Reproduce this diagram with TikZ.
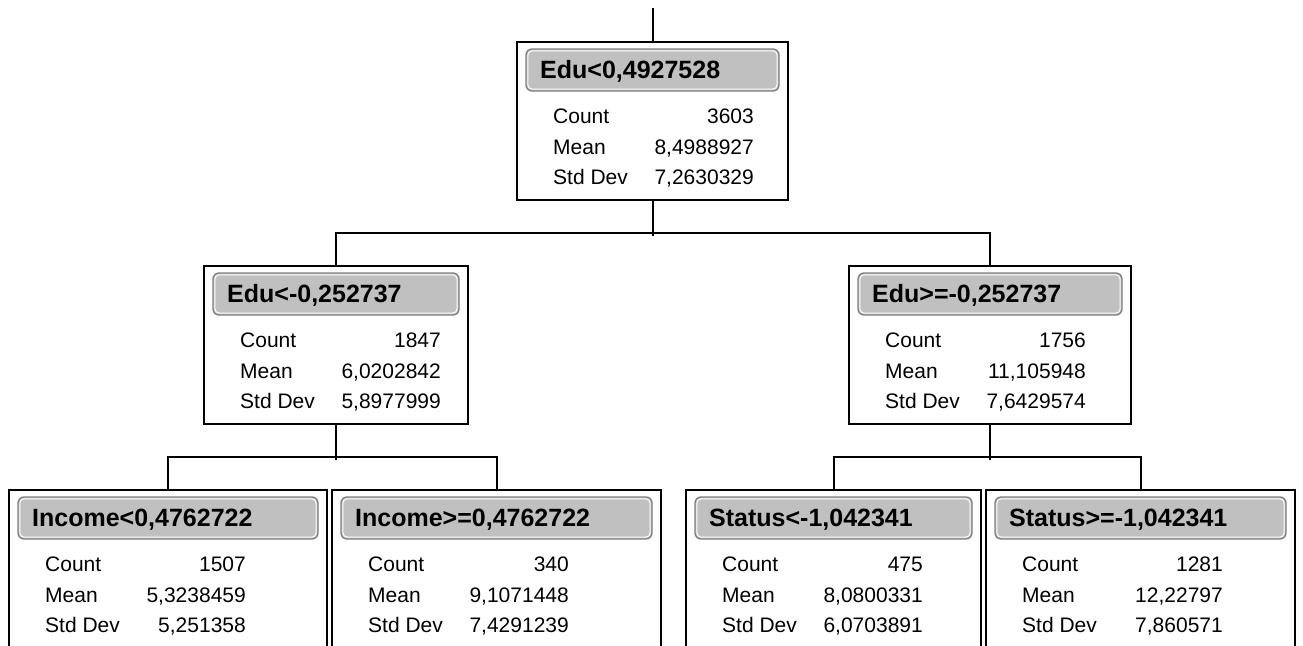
\documentclass[tikz,border=0pt]{standalone}
\usepackage{fontspec}
\setmainfont{Liberation Sans}
\definecolor{hdrfill}{RGB}{192,192,192}
\definecolor{hdrline}{RGB}{128,128,128}
\tikzset{
  box/.style={draw=black, line width=2pt, fill=white, anchor=north west, inner sep=0pt, outer sep=0pt, minimum height=158pt},
  hdr/.style={draw=hdrline, line width=1.3pt, fill=hdrfill, rounded corners=6pt, anchor=north west, inner sep=0pt, outer sep=0pt, minimum height=42pt},
  hdrtext/.style={anchor=base west, inner sep=0pt, font=\fontsize{25}{28}\selectfont\bfseries},
  lbl/.style={anchor=base west, inner sep=0pt, font=\fontsize{21}{24}\selectfont},
  val/.style={anchor=base east, inner sep=0pt, font=\fontsize{21}{24}\selectfont},
  conn/.style={draw=black, line width=2pt},
}
\newcommand\treebox[8]{%
  \node[box, minimum width={(#3-#2)*1pt}] (#1) at (#2,#4) {};
  \node[hdr, minimum width={(#3-#2-18)*1pt}] (#1h) at ([shift={(9pt,-7pt)}]#1.north west) {};
  \draw[white, line width=1pt, rounded corners=4.5pt] ([shift={(1.8pt,-1.8pt)}]#1h.north west) rectangle ([shift={(-1.8pt,1.8pt)}]#1h.south east);
  \node[hdrtext] (#1t) at ([shift={(23pt,-36.5pt)}]#1.north west) {#5};
  \node[lbl] (#1cl) at ([shift={(36pt,-81pt)}]#1.north west) {Count};
  \node[lbl] (#1ml) at ([shift={(36pt,-112pt)}]#1.north west) {Mean};
  \node[lbl] (#1sl) at ([shift={(36pt,-142pt)}]#1.north west) {Std Dev};
  \node[val] (#1cv) at ([shift={(237pt,-81pt)}]#1.north west) {#6};
  \node[val] (#1mv) at ([shift={(237pt,-112pt)}]#1.north west) {#7};
  \node[val] (#1sv) at ([shift={(237pt,-142pt)}]#1.north west) {#8};
}
\begin{document}
\begin{tikzpicture}[x=1pt, y=-1pt]
  \useasboundingbox (0,0) rectangle (1303,645);
  \clip (0,0) rectangle (1303,645);
  \fill[white] (0,0) rectangle (1303,645);
  \treebox{top}{517}{788}{42}{Edu<0,4927528}{3603}{8,4988927}{7,2630329}
  \treebox{ml}{204}{468}{266}{Edu<-0,252737}{1847}{6,0202842}{5,8977999}
  \treebox{mr}{849}{1131}{266}{Edu>=-0,252737}{1756}{11,105948}{7,6429574}
  \treebox{ba}{9}{327}{490}{Income<0,4762722}{1507}{5,3238459}{5,251358}
  \treebox{bb}{332}{661}{490}{Income>=0,4762722}{340}{9,1071448}{7,4291239}
  \treebox{bc}{686}{981}{490}{Status<-1,042341}{475}{8,0800331}{6,0703891}
  \treebox{bd}{986}{1295}{490}{Status>=-1,042341}{1281}{12,22797}{7,860571}
  \coordinate (root) at (652.5,8);
  \draw[conn] (root) -- (top.north);
  \draw[conn] (top.south) -- ++(0,36);
  \draw[conn] (ml.north) -- ++(0,-33) -| (mr.north);
  \draw[conn] (ml.south) -- ++(0,36);
  \draw[conn] (ba.north) -- ++(0,-33) -| (bb.north);
  \draw[conn] (mr.south) -- ++(0,36);
  \draw[conn] (bc.north) -- ++(0,-33) -| (bd.north);
\end{tikzpicture}
\end{document}
